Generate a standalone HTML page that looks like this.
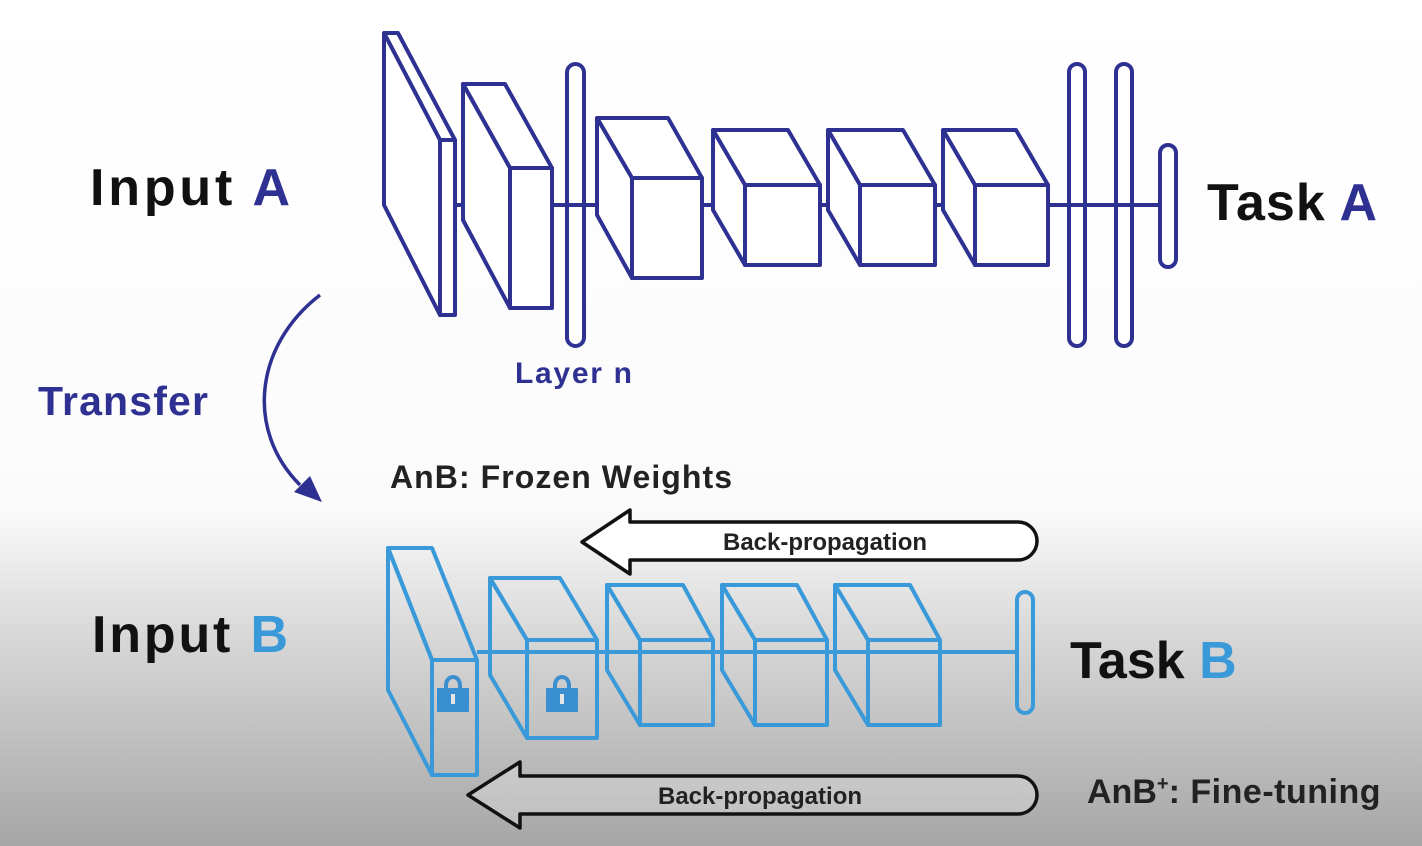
<!DOCTYPE html>
<html><head><meta charset="utf-8"><style>
html,body{margin:0;padding:0;width:1422px;height:846px;overflow:hidden;background:#fff}
svg{display:block}
text{font-family:"Liberation Sans",sans-serif;font-weight:bold}
</style></head><body>
<svg width="1422" height="846" viewBox="0 0 1422 846">
<defs>
<linearGradient id="bg" x1="0" y1="0" x2="0" y2="1">
<stop offset="0" stop-color="#ffffff"/><stop offset="0.6" stop-color="#fbfbfb"/><stop offset="0.75" stop-color="#d8d8d8"/><stop offset="1" stop-color="#a6a6a6"/>
</linearGradient>
</defs>
<rect width="1422" height="846" fill="url(#bg)"/>

<g fill="none" stroke="#2e3192" stroke-width="4" stroke-linejoin="round">
<line x1="455" y1="205" x2="1160" y2="205"/>
<g fill="#fff">
<path d="M384,33 L398,33 L455,140 L440,140 Z"/><path d="M384,33 L384,205 L440,315 L440,140 Z"/><rect x="440" y="140" width="15" height="175"/></g>
<g fill="#fff">
<path d="M463,84 L505,84 L552,168 L510,168 Z"/><path d="M463,84 L463,220 L510,308 L510,168 Z"/><rect x="510" y="168" width="42" height="140"/></g>
<rect x="567" y="64" width="17" height="282" rx="8.5" fill="#fff"/>
<line x1="567" y1="205" x2="597" y2="205"/>
<g fill="#fff">
<path d="M597,118 L668,118 L702,178 L632,178 Z"/><path d="M597,118 L597,215 L632,278 L632,178 Z"/><rect x="632" y="178" width="70" height="100"/></g>
<g fill="#fff">
<path d="M713,130 L788,130 L820,185 L745,185 Z"/><path d="M713,130 L713,210 L745,265 L745,185 Z"/><rect x="745" y="185" width="75" height="80"/></g>
<g fill="#fff">
<path d="M828,130 L903,130 L935,185 L860,185 Z"/><path d="M828,130 L828,210 L860,265 L860,185 Z"/><rect x="860" y="185" width="75" height="80"/></g>
<g fill="#fff">
<path d="M943,130 L1016,130 L1048,185 L975,185 Z"/><path d="M943,130 L943,210 L975,265 L975,185 Z"/><rect x="975" y="185" width="73" height="80"/></g>
<line x1="1048" y1="205" x2="1160" y2="205"/>
<rect x="1069" y="64" width="16" height="282" rx="8" fill="#fff"/>
<rect x="1116" y="64" width="16" height="282" rx="8" fill="#fff"/>
<line x1="1069" y1="205" x2="1160" y2="205"/>
<rect x="1160" y="145" width="16" height="122" rx="8" fill="#fff"/>
</g>

<text x="90" y="205" font-size="52" fill="#111" textLength="200" lengthAdjust="spacing">Input <tspan fill="#2e3192">A</tspan></text>
<text x="1207" y="220" font-size="52" fill="#111" textLength="170" lengthAdjust="spacing">Task <tspan fill="#2e3192">A</tspan></text>
<text x="515" y="383" font-size="30" fill="#2e3192" textLength="117" lengthAdjust="spacing">Layer n</text>
<text x="38" y="415" font-size="41" fill="#2e3192" textLength="170" lengthAdjust="spacing">Transfer</text>
<path d="M320,295 C255,345 245,430 300,485" fill="none" stroke="#2e3192" stroke-width="3.5"/>
<path d="M322,502 L294,492 L310,476 Z" fill="#2e3192"/>

<text x="390" y="488" font-size="32" fill="#222" textLength="342" lengthAdjust="spacing">AnB: Frozen Weights</text>

<g>
<path d="M582,542 L630,510 L630,522 L1018,522 A19,19 0 0 1 1018,560 L630,560 L630,574 Z" fill="#fff" stroke="#111" stroke-width="3.5" stroke-linejoin="round"/>
<text x="825" y="550" font-size="24" fill="#222" text-anchor="middle">Back-propagation</text>
</g>

<g fill="none" stroke="#3a9ad9" stroke-width="4" stroke-linejoin="round">
<line x1="477" y1="652" x2="1018" y2="652"/>
<g fill="none">
<path d="M388,548 L432,548 L477,660 L432,660 Z"/><path d="M388,548 L388,690 L432,775 L432,660 Z"/><rect x="432" y="660" width="45" height="115"/></g>
<g fill="none">
<path d="M490,578 L560,578 L597,640 L527,640 Z"/><path d="M490,578 L490,675 L527,738 L527,640 Z"/><rect x="527" y="640" width="70" height="98"/></g>
<g fill="none">
<path d="M607,585 L683,585 L713,640 L640,640 Z"/><path d="M607,585 L607,670 L640,725 L640,640 Z"/><rect x="640" y="640" width="73" height="85"/></g>
<g fill="none">
<path d="M722,585 L797,585 L827,640 L755,640 Z"/><path d="M722,585 L722,670 L755,725 L755,640 Z"/><rect x="755" y="640" width="72" height="85"/></g>
<g fill="none">
<path d="M835,585 L910,585 L940,640 L868,640 Z"/><path d="M835,585 L835,670 L868,725 L868,640 Z"/><rect x="868" y="640" width="72" height="85"/></g>
<rect x="1017" y="592" width="16" height="121" rx="8"/>
</g>
<g fill="#3a8fd0">
<path d="M444,685 a9,10 0 0 1 18,0 v5 h-4 v-5 a5,6 0 0 0 -10,0 v5 h-4 z"/>
<rect x="437" y="688" width="32" height="24" rx="1"/><rect x="451" y="694" width="4" height="10" fill="#e6e6e6"/></g>
<g fill="#3a8fd0">
<path d="M553,685 a9,10 0 0 1 18,0 v5 h-4 v-5 a5,6 0 0 0 -10,0 v5 h-4 z"/>
<rect x="546" y="688" width="32" height="24" rx="1"/><rect x="560" y="694" width="4" height="10" fill="#e6e6e6"/></g>

<text x="92" y="652" font-size="52" fill="#111" textLength="196" lengthAdjust="spacing">Input <tspan fill="#3a9ad9">B</tspan></text>
<text x="1070" y="678" font-size="52" fill="#111">Task <tspan fill="#3a9ad9">B</tspan></text>

<g>
<path d="M468,795 L520,762 L520,776 L1018,776 A19,19 0 0 1 1018,814 L520,814 L520,828 Z" fill="#fff" fill-opacity="0.25" stroke="#111" stroke-width="3.5" stroke-linejoin="round"/>
<text x="760" y="804" font-size="24" fill="#222" text-anchor="middle">Back-propagation</text>
</g>
<text x="1087" y="803" font-size="34" fill="#222">AnB<tspan font-size="20" dy="-13">+</tspan><tspan dy="13" textLength="212" lengthAdjust="spacing">: Fine-tuning</tspan></text>
</svg>
</body></html>
